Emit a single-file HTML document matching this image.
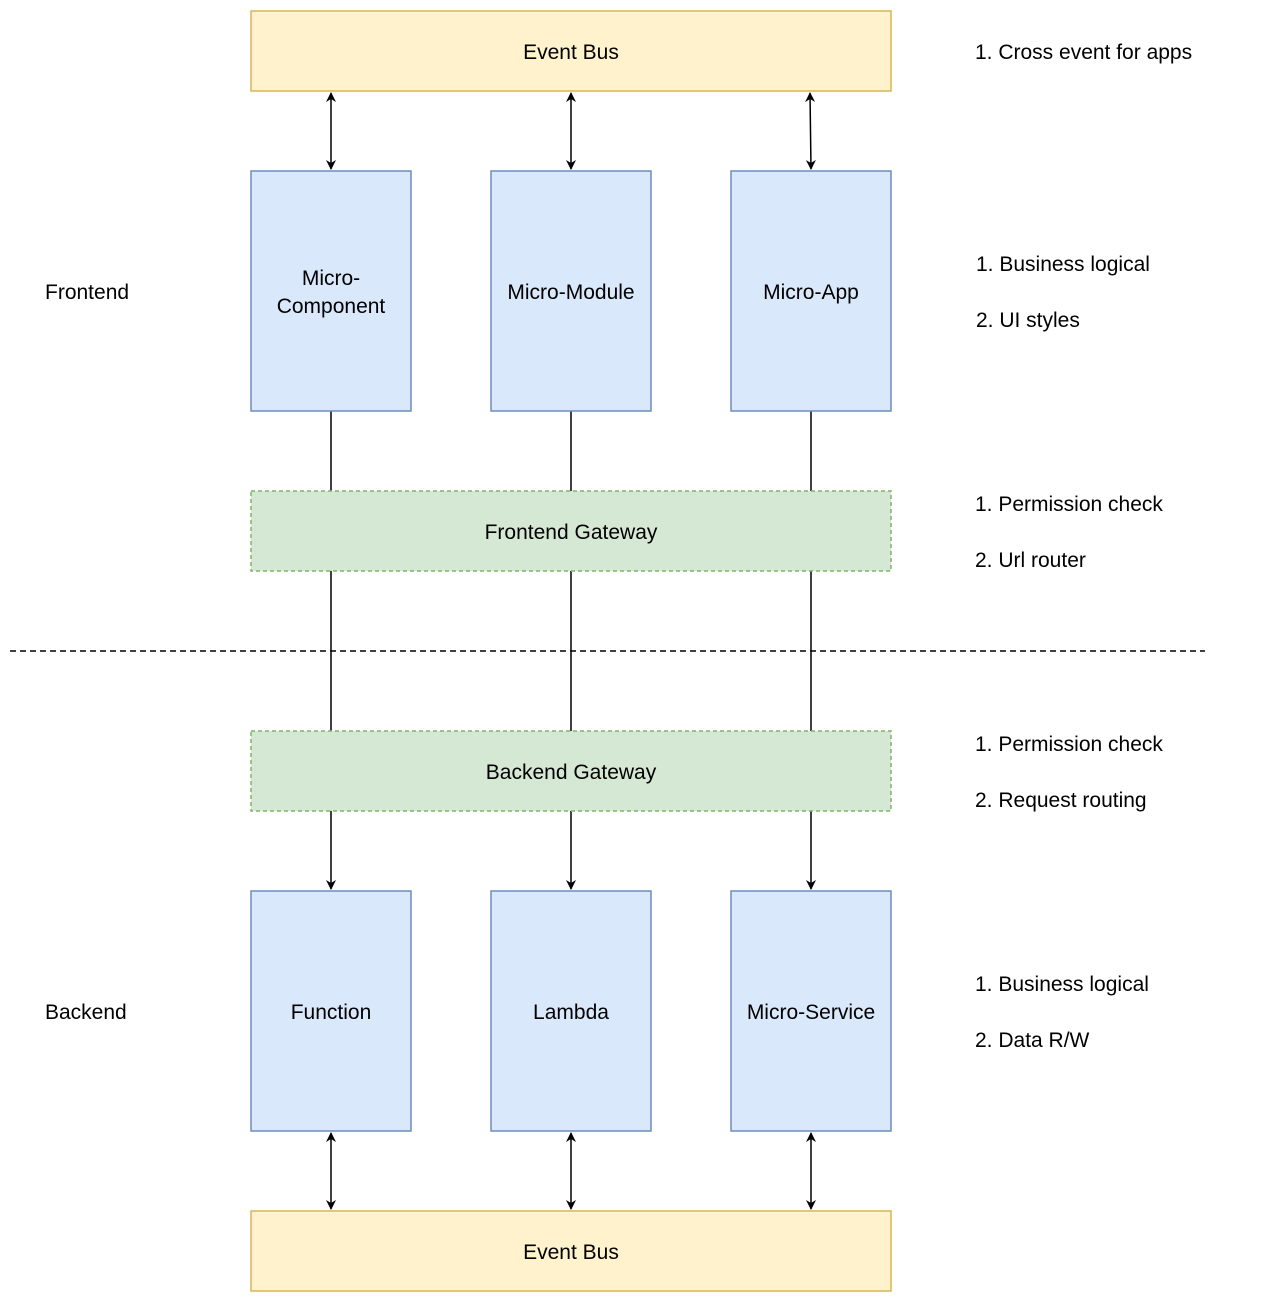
<!DOCTYPE html>
<html><head><meta charset="utf-8"><style>
html,body{margin:0;padding:0;background:#fff;}
svg{display:block;}
text{font-family:"Liberation Sans",Helvetica,Arial,sans-serif;font-size:21px;fill:#000;}
</style></head><body>
<svg width="1262" height="1302" viewBox="0 0 1262 1302" xmlns="http://www.w3.org/2000/svg">
<defs>
<marker id="a" viewBox="0 0 10 10" refX="9" refY="5" markerWidth="10" markerHeight="10" orient="auto-start-reverse" markerUnits="userSpaceOnUse">
<path d="M0,0 L10,5 L0,10 L3,5 z" fill="#000"/>
</marker>
</defs>
<!-- Event bus top -->
<rect x="251" y="11" width="640" height="80" fill="#fff2cc" stroke="#d6b656" stroke-width="1.5"/>
<text x="571" y="59" text-anchor="middle">Event Bus</text>
<!-- arrows top -->
<g stroke="#000" stroke-width="1.5">
<line x1="331" y1="93" x2="331" y2="169" marker-start="url(#a)" marker-end="url(#a)"/>
<line x1="571" y1="93" x2="571" y2="169" marker-start="url(#a)" marker-end="url(#a)"/>
<line x1="810" y1="93" x2="811" y2="169" marker-start="url(#a)" marker-end="url(#a)"/>
<line x1="331" y1="411" x2="331" y2="491"/>
<line x1="571" y1="411" x2="571" y2="491"/>
<line x1="811" y1="411" x2="811" y2="491"/>
<line x1="331" y1="571" x2="331" y2="731"/>
<line x1="571" y1="571" x2="571" y2="731"/>
<line x1="811" y1="571" x2="811" y2="731"/>
<line x1="331" y1="811" x2="331" y2="889" marker-end="url(#a)"/>
<line x1="571" y1="811" x2="571" y2="889" marker-end="url(#a)"/>
<line x1="811" y1="811" x2="811" y2="889" marker-end="url(#a)"/>
<line x1="331" y1="1133" x2="331" y2="1209" marker-start="url(#a)" marker-end="url(#a)"/>
<line x1="571" y1="1133" x2="571" y2="1209" marker-start="url(#a)" marker-end="url(#a)"/>
<line x1="811" y1="1133" x2="811" y2="1209" marker-start="url(#a)" marker-end="url(#a)"/>
<line x1="10" y1="651" x2="1205" y2="651" stroke-dasharray="6,4"/>
</g>
<!-- frontend boxes -->
<g fill="#dae8fc" stroke="#6c8ebf" stroke-width="1.5">
<rect x="251" y="171" width="160" height="240"/>
<rect x="491" y="171" width="160" height="240"/>
<rect x="731" y="171" width="160" height="240"/>
<rect x="251" y="891" width="160" height="240"/>
<rect x="491" y="891" width="160" height="240"/>
<rect x="731" y="891" width="160" height="240"/>
</g>
<text x="331" y="285" text-anchor="middle">Micro-</text>
<text x="331" y="313" text-anchor="middle">Component</text>
<text x="571" y="299" text-anchor="middle">Micro-Module</text>
<text x="811" y="299" text-anchor="middle">Micro-App</text>
<text x="331" y="1019" text-anchor="middle">Function</text>
<text x="571" y="1019" text-anchor="middle">Lambda</text>
<text x="811" y="1019" text-anchor="middle">Micro-Service</text>
<!-- gateways -->
<rect x="251" y="491" width="640" height="80" fill="#d5e8d4" stroke="#82b366" stroke-width="1.5" stroke-dasharray="4,3"/>
<text x="571" y="539" text-anchor="middle">Frontend Gateway</text>
<rect x="251" y="731" width="640" height="80" fill="#d5e8d4" stroke="#82b366" stroke-width="1.5" stroke-dasharray="4,3"/>
<text x="571" y="779" text-anchor="middle">Backend Gateway</text>
<!-- bottom bus -->
<rect x="251" y="1211" width="640" height="80" fill="#fff2cc" stroke="#d6b656" stroke-width="1.5"/>
<text x="571" y="1259" text-anchor="middle">Event Bus</text>
<!-- side labels -->
<text x="45" y="299">Frontend</text>
<text x="45" y="1019">Backend</text>
<text x="975" y="59">1. Cross event for apps</text>
<text x="976" y="271">1. Business logical</text>
<text x="976" y="327">2. UI styles</text>
<text x="975" y="511">1. Permission check</text>
<text x="975" y="567">2. Url router</text>
<text x="975" y="751">1. Permission check</text>
<text x="975" y="807">2. Request routing</text>
<text x="975" y="991">1. Business logical</text>
<text x="975" y="1047">2. Data R/W</text>
</svg>
</body></html>
